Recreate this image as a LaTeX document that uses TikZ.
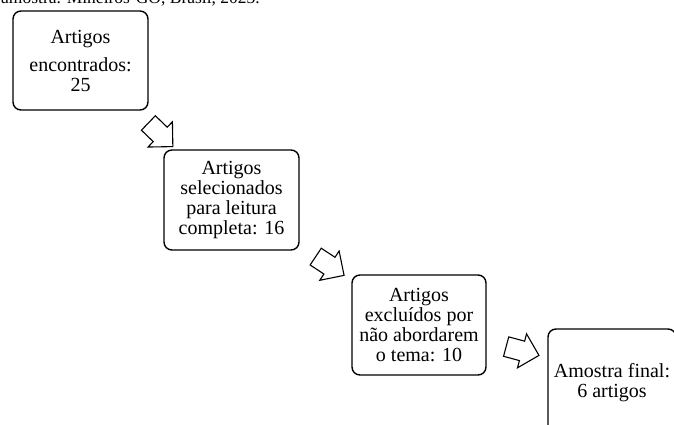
\documentclass[tikz,border=0pt]{standalone}
\usepackage{fontspec}
\setmainfont{Liberation Serif}
\usetikzlibrary{shapes.arrows}
\tikzset{
  caixa/.style={draw, line width=1.4pt, rounded corners=8pt, align=center,
    inner sep=0pt, font=\fontsize{20}{20}\selectfont},
  seta/.style={single arrow, draw, line width=1.1pt, inner sep=0pt,
    text height=19pt, text depth=0pt, minimum height=34pt,
    single arrow head extend=7.5pt}
}

\begin{document}
\begin{tikzpicture}[x=1pt,y=-1pt]

\clip (0,0) rectangle (674,425);

\node[anchor=base west, inner sep=0pt, font=\fontsize{17.5}{20}\selectfont] (titulo) at (1,4) {amostra. Mineiros-GO, Brasil, 2023.};

\node[caixa, minimum width=135pt, minimum height=99pt] (a) at (80.5,60.5) {Artigos\\[8pt]encontrados:\\25};
\node[caixa, minimum width=135pt, minimum height=100pt] (b) at (231.5,200) {Artigos\\selecionados\\para leitura\\completa: 16};
\node[caixa, minimum width=134pt, minimum height=100pt] (c) at (419,325) {Artigos\\excluídos por\\não abordarem\\o tema: 10};
\node[caixa, minimum width=128pt, minimum height=108pt] (d) at (612,383) {Amostra final:\\6 artigos};

% setas
\node[seta, rotate=-44] (s1) at (157,131.3) {};
\node[seta, rotate=-33.5] (s2) at (325.7,263.2) {};
\node[seta, rotate=-15] (s3) at (517.7,349.7) {};

\end{tikzpicture}
\end{document}
